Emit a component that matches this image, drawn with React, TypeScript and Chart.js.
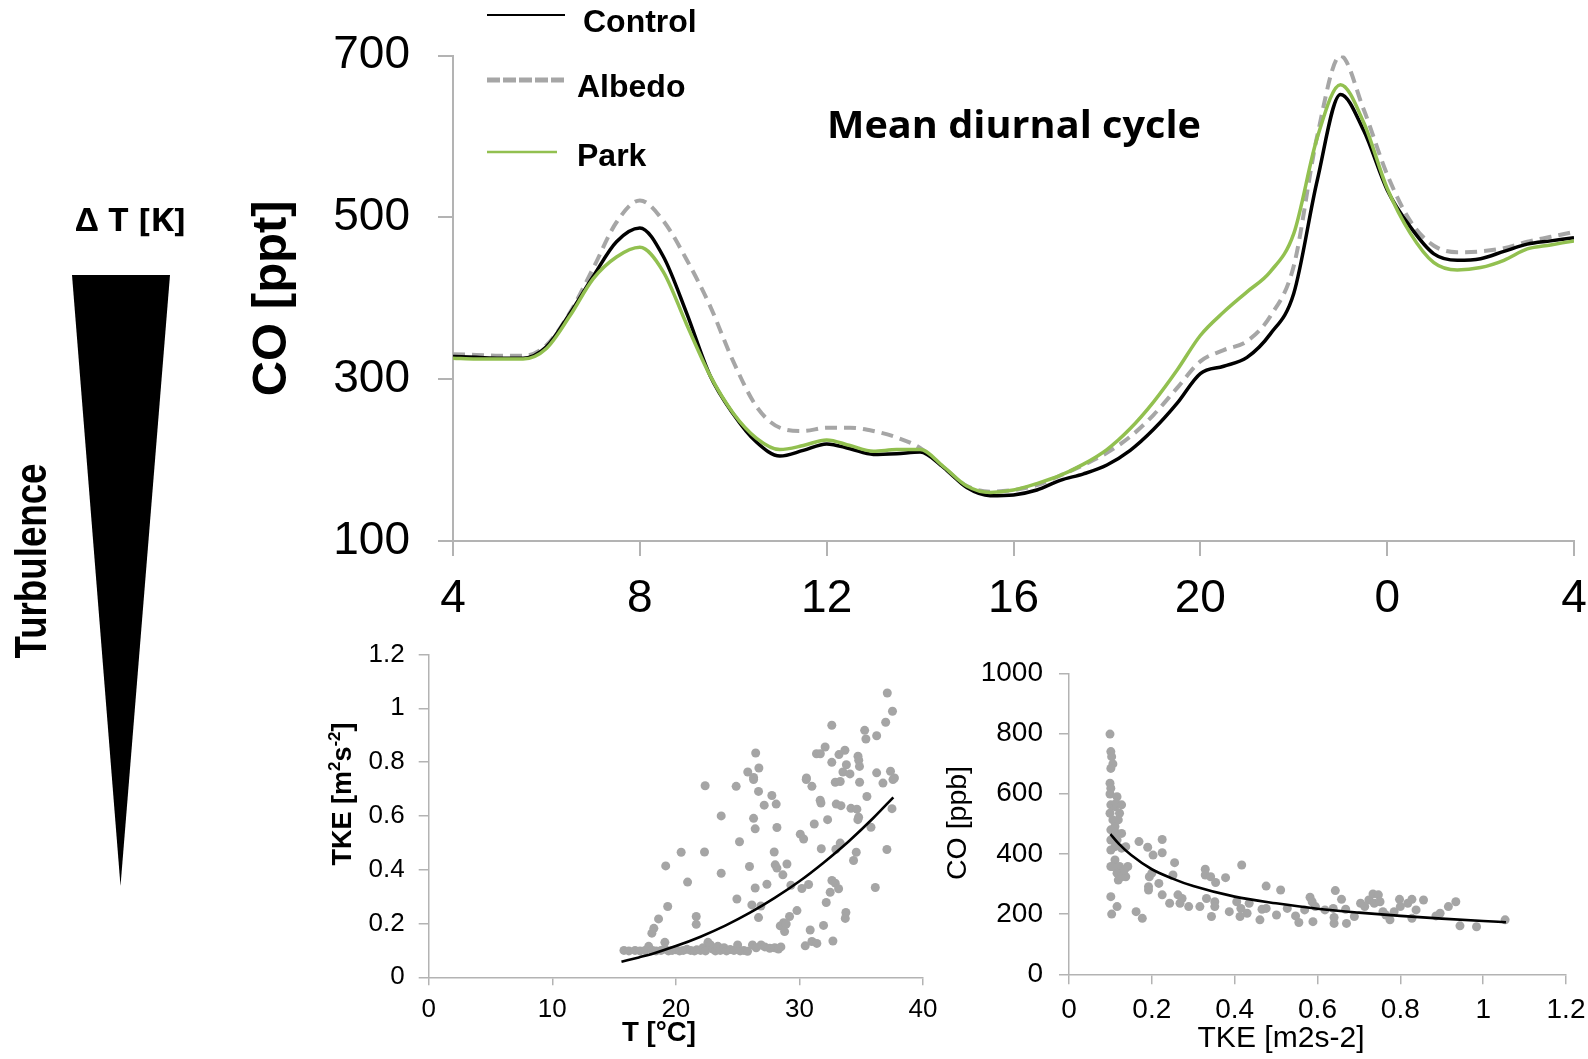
import React, { useEffect, useRef } from "react";
import { Chart, registerables } from "chart.js";

Chart.register(...registerables);

// ---------------- DATA ----------------
// Mean diurnal cycle (hour of day, 4 -> 28 == 4 next day)
const HOURS = [4, 4.5, 5, 5.5, 6, 6.5, 7, 7.5, 8, 8.5, 9, 9.5, 10, 10.5, 11, 11.5, 12, 12.5, 13, 13.5, 14, 14.5, 15, 15.5, 16, 16.5, 17, 17.5, 18, 18.5, 19, 19.5, 20, 20.5, 21, 21.5, 22, 22.5, 23, 23.5, 24, 24.5, 25, 25.5, 26, 26.5, 27, 27.5, 28];
const CONTROL = [328, 327, 326, 326, 340, 381, 427, 470, 487, 452, 382, 305, 257, 222, 205, 212, 220, 214, 207, 208, 210, 191, 166, 156, 157, 163, 175, 183, 194, 212, 238, 270, 307, 316, 327, 356, 406, 545, 652, 607, 534, 488, 455, 447, 449, 458, 467, 471, 475];
const ALBEDO = [331, 330, 329, 329, 342, 382, 437, 494, 521, 496, 448, 391, 322, 266, 240, 236, 240, 240, 236, 228, 215, 191, 168, 161, 163, 169, 181, 194, 209, 229, 256, 289, 322, 336, 347, 378, 440, 600, 700, 633, 553, 495, 465, 457, 458, 462, 470, 476, 482];
const PARK = [326, 325, 325, 325, 338, 378, 424, 451, 463, 433, 368, 305, 258, 227, 213, 218, 225, 218, 211, 213, 213, 192, 168, 160, 163, 171, 181, 195, 213, 239, 272, 311, 354, 383, 408, 433, 480, 598, 664, 617, 536, 480, 444, 435, 438, 447, 461, 466, 471];
const SERIES_NAMES = ["Control", "Albedo", "Park"];
const HOUR_TICKS = [4, 8, 12, 16, 20, 24, 28];
const CO_PPT_TICKS = [100, 300, 500, 700];

// TKE vs temperature
const TEMP_TKE_POINTS: [number, number][] = [
  [37.11, 1.057], [37.53, 0.989], [36.98, 0.948], [32.62, 0.937], [35.28, 0.918], [35.38, 0.886], [36.25, 0.898],
  [32.08, 0.856], [31.38, 0.831], [31.69, 0.831], [33.68, 0.844], [33.2, 0.828], [26.46, 0.834], [34.74, 0.822],
  [34.8, 0.807], [32.62, 0.799], [33.8, 0.79], [34.86, 0.784], [26.72, 0.778], [25.82, 0.763], [33.52, 0.763],
  [36.25, 0.76], [34.09, 0.756], [37.37, 0.766], [26.29, 0.743], [30.57, 0.741], [37.69, 0.741],
  [22.37, 0.712], [24.88, 0.71], [26.29, 0.735], [26.69, 0.691], [27.77, 0.676], [27.15, 0.64], [28.12, 0.644],
  [31.01, 0.71], [30.55, 0.735], [32.9, 0.725], [33.3, 0.728], [34.87, 0.725], [36.76, 0.722], [37.57, 0.735],
  [31.68, 0.658], [31.74, 0.648], [32.98, 0.644], [33.36, 0.638], [35.46, 0.672], [34.17, 0.628], [34.65, 0.625],
  [34.79, 0.595], [34.73, 0.586], [35.79, 0.558], [37.49, 0.627], [32.28, 0.586], [31.2, 0.57], [28.18, 0.557],
  [26.42, 0.552], [26.29, 0.591], [23.67, 0.6], [25.15, 0.504], [30.07, 0.532], [30.34, 0.514], [22.32, 0.466],
  [27.96, 0.466], [25.96, 0.412], [28.04, 0.418], [28.18, 0.406], [28.99, 0.421], [28.66, 0.381], [23.67, 0.387],
  [31.77, 0.478], [32.95, 0.476], [33.3, 0.499], [34.6, 0.465], [34.38, 0.434], [37.08, 0.475], [26.42, 0.332],
  [27.37, 0.346], [29.31, 0.342], [30.2, 0.33], [30.74, 0.345], [32.63, 0.36], [32.9, 0.35], [33.17, 0.329],
  [32.49, 0.316], [36.14, 0.334], [24.94, 0.291], [26.15, 0.269], [26.88, 0.265], [26.69, 0.222], [29.8, 0.248],
  [29.2, 0.226], [28.45, 0.191], [28.72, 0.203], [28.93, 0.198], [28.8, 0.17], [32.17, 0.278], [33.76, 0.241],
  [33.71, 0.219], [31.95, 0.193], [30.87, 0.176], [30.47, 0.117], [31.01, 0.133], [31.41, 0.126], [32.71, 0.135],
  [20.43, 0.465], [19.18, 0.414], [20.95, 0.354], [19.34, 0.263], [21.65, 0.226], [18.6, 0.217], [21.65, 0.197],
  [18.06, 0.164], [18.22, 0.182], [19.11, 0.13],
  [15.8, 0.1], [16.2, 0.098], [16.7, 0.1], [17.1, 0.098], [17.5, 0.1], [17.8, 0.115], [18.1, 0.1], [18.4, 0.098],
  [18.8, 0.1], [19.1, 0.105], [19.4, 0.098], [19.7, 0.1], [20.0, 0.102], [20.3, 0.098], [20.6, 0.1], [20.9, 0.104],
  [21.2, 0.1], [21.5, 0.098], [21.7, 0.102], [22.0, 0.1], [22.2, 0.11], [22.4, 0.098], [22.6, 0.13], [22.8, 0.12],
  [23.0, 0.105], [23.2, 0.098], [23.4, 0.115], [23.6, 0.1], [23.9, 0.11], [24.1, 0.098], [24.4, 0.103], [24.7, 0.1],
  [25.0, 0.12], [25.2, 0.098], [25.5, 0.1], [25.8, 0.097], [26.2, 0.12], [26.5, 0.11], [26.9, 0.12], [27.2, 0.113],
  [27.6, 0.108], [28.0, 0.11], [28.3, 0.105], [28.5, 0.113],
];
const TEMP_FIT_T = [15.6, 17, 18, 20, 22, 24, 26, 28, 30, 32, 34, 36, 37.6];
const TEMP_FIT_TKE = [0.058, 0.074, 0.086, 0.116, 0.151, 0.192, 0.24, 0.295, 0.357, 0.428, 0.506, 0.593, 0.669];
const TEMP_TICKS = [0, 10, 20, 30, 40];
const TKE_TICKS = [0, 0.2, 0.4, 0.6, 0.8, 1, 1.2];

// CO vs TKE
const TKE_CO_POINTS: [number, number][] = [
  [0.099, 798], [0.101, 740], [0.103, 723], [0.106, 699], [0.101, 684], [0.099, 635], [0.101, 618], [0.099, 599],
  [0.101, 563], [0.111, 557], [0.099, 535], [0.116, 590], [0.114, 568], [0.122, 535], [0.127, 563], [0.119, 513],
  [0.106, 513], [0.111, 491], [0.101, 480], [0.116, 468], [0.127, 468], [0.101, 446], [0.116, 446], [0.111, 424],
  [0.101, 413], [0.127, 419], [0.137, 424], [0.111, 380], [0.106, 358], [0.122, 358], [0.142, 358], [0.116, 336],
  [0.127, 324], [0.137, 324], [0.119, 313], [0.101, 358], [0.116, 225], [0.101, 258], [0.103, 200], [0.134, 347],
  [0.169, 441], [0.177, 186], [0.162, 208], [0.19, 422], [0.203, 396], [0.225, 448], [0.225, 404], [0.194, 324],
  [0.192, 291], [0.192, 280], [0.2, 336], [0.217, 302], [0.225, 264], [0.243, 236], [0.251, 330], [0.255, 371],
  [0.263, 264], [0.268, 236], [0.273, 252], [0.289, 225], [0.316, 225], [0.329, 349], [0.329, 330], [0.332, 252],
  [0.342, 324], [0.344, 192], [0.352, 241], [0.352, 225], [0.354, 305], [0.378, 321], [0.387, 208], [0.405, 241],
  [0.413, 192], [0.417, 363], [0.415, 219], [0.43, 203], [0.435, 236], [0.461, 181], [0.466, 216], [0.476, 293],
  [0.476, 219], [0.501, 197], [0.511, 280], [0.527, 219], [0.547, 194], [0.555, 172], [0.569, 214], [0.582, 256],
  [0.587, 241], [0.589, 175], [0.595, 225], [0.618, 214], [0.638, 219], [0.64, 189], [0.64, 169], [0.643, 278],
  [0.658, 249], [0.668, 216], [0.67, 169], [0.689, 192], [0.704, 236], [0.714, 225], [0.724, 247], [0.734, 267],
  [0.737, 236], [0.747, 264], [0.751, 241], [0.758, 208], [0.765, 197], [0.775, 181], [0.785, 208], [0.798, 249],
  [0.8, 225], [0.818, 236], [0.828, 249], [0.828, 186], [0.838, 214], [0.856, 247], [0.886, 194], [0.896, 203],
  [0.916, 225], [0.934, 241], [0.944, 161], [0.984, 158], [1.053, 181],
];
const TKE_FIT_X = [0.1, 0.12, 0.15, 0.2, 0.25, 0.3, 0.4, 0.5, 0.6, 0.7, 0.8, 0.9, 1.0, 1.055];
const TKE_FIT_CO = [466, 434, 396, 349, 318, 293, 258, 236, 218, 205, 194, 185, 177, 173];
const TKE_X_TICKS = [0, 0.2, 0.4, 0.6, 0.8, 1, 1.2];
const CO_PPB_TICKS = [0, 200, 400, 600, 800, 1000];

// ---------------- STYLE ----------------
const ARIAL = "'Liberation Sans', Arial, Helvetica, sans-serif";
const OPEN = "'Open Sans', 'DejaVu Sans', sans-serif";
const AXIS = "#b3b3b3";
const GREEN = "#92c050";
const GRAY = "#a6a6a6";
const DOT = "#a5a5a5";

function fitText(
  ctx: CanvasRenderingContext2D, text: string, x: number, y: number, font: string, width: number,
  align: CanvasTextAlign = "left", rotate = 0
) {
  ctx.save();
  ctx.font = font;
  const w = ctx.measureText(text).width;
  ctx.translate(x, y);
  if (rotate) ctx.rotate(rotate);
  ctx.scale(width / w, 1);
  ctx.textAlign = align;
  ctx.textBaseline = "alphabetic";
  ctx.fillStyle = "#000";
  ctx.fillText(text, 0, 0);
  ctx.restore();
}

function richText(
  ctx: CanvasRenderingContext2D, segs: { t: string; sup?: boolean }[], x: number, y: number,
  size: number, weight: string, rotate: number
) {
  ctx.save();
  ctx.translate(x, y);
  ctx.rotate(rotate);
  const fontFor = (sup?: boolean) => `${weight} ${sup ? Math.round(size * 0.62) : size}px ${ARIAL}`;
  let total = 0;
  const widths = segs.map((s) => {
    ctx.font = fontFor(s.sup);
    const w = ctx.measureText(s.t).width;
    total += w;
    return w;
  });
  let cx = -total / 2;
  ctx.textAlign = "left";
  ctx.textBaseline = "alphabetic";
  ctx.fillStyle = "#000";
  segs.forEach((s, i) => {
    ctx.font = fontFor(s.sup);
    ctx.fillText(s.t, cx, s.sup ? -size * 0.4 : 0);
    cx += widths[i];
  });
  ctx.restore();
}

const fmt = (v: number) => String(Math.round(v * 10) / 10);

function mainConfig(): any {
  const decor = {
    id: "decor",
    afterDraw(chart: any) {
      const ctx: CanvasRenderingContext2D = chart.ctx;
      ctx.save();
      // legend
      const legend = [
        { y: 15, ty: 31.5, tx: 583, x2: 565, color: "#000", width: 2, dash: [] as number[] },
        { y: 80, ty: 96.5, tx: 577, x2: 565, color: GRAY, width: 5, dash: [13, 3] },
        { y: 152, ty: 165.5, tx: 577, x2: 557, color: GREEN, width: 2.5, dash: [] as number[] },
      ];
      legend.forEach((l, i) => {
        ctx.beginPath();
        ctx.setLineDash(l.dash);
        ctx.strokeStyle = l.color;
        ctx.lineWidth = l.width;
        ctx.moveTo(487, l.y);
        ctx.lineTo(l.x2, l.y);
        ctx.stroke();
        ctx.setLineDash([]);
        ctx.font = `bold 32px ${ARIAL}`;
        ctx.fillStyle = "#000";
        ctx.textAlign = "left";
        ctx.textBaseline = "alphabetic";
        ctx.fillText(SERIES_NAMES[i], l.tx, l.ty);
      });
      // title
      fitText(ctx, "Mean diurnal cycle", 827, 138, `bold 37px ${OPEN}`, 374);
      // Delta T label and triangle
      fitText(ctx, "Δ T [K]", 75, 231, `bold 33px ${OPEN}`, 111);
      ctx.beginPath();
      ctx.moveTo(72, 275);
      ctx.lineTo(170, 275);
      ctx.lineTo(120.5, 886);
      ctx.closePath();
      ctx.fillStyle = "#000";
      ctx.fill();
      fitText(ctx, "Turbulence", 46, 561, `bold 44px ${ARIAL}`, 195, "center", -Math.PI / 2);
      ctx.restore();
    },
  };
  const mk = (vals: number[]) => HOURS.map((h, i) => ({ x: h, y: vals[i] }));
  return {
    type: "line",
    data: {
      datasets: [
        { label: SERIES_NAMES[0], data: mk(CONTROL), borderColor: "#000", borderWidth: 3.5, pointRadius: 0, cubicInterpolationMode: "monotone", order: 1 },
        { label: SERIES_NAMES[1], data: mk(ALBEDO), borderColor: GRAY, borderWidth: 4, borderDash: [12, 7], pointRadius: 0, cubicInterpolationMode: "monotone", order: 2 },
        { label: SERIES_NAMES[2], data: mk(PARK), borderColor: GREEN, borderWidth: 3.5, pointRadius: 0, cubicInterpolationMode: "monotone", order: 0 },
      ],
    },
    options: {
      responsive: false,
      animation: false,
      layout: { padding: { left: 243, top: 52, right: 36, bottom: 419 } },
      plugins: { legend: { display: false }, tooltip: { enabled: false } },
      scales: {
        x: {
          type: "linear",
          min: 4,
          max: 28,
          afterBuildTicks: (s: any) => { s.ticks = HOUR_TICKS.map((v) => ({ value: v })); },
          afterFit: (s: any) => { s.height = 99; },
          ticks: { callback: (v: number) => String(v % 24), font: { family: ARIAL, size: 46 }, color: "#000", padding: 16, maxRotation: 0, autoSkip: false },
          grid: { display: true, drawOnChartArea: false, drawTicks: true, tickLength: 15, color: AXIS, lineWidth: 2 },
          border: { display: true, color: AXIS, width: 2 },
        },
        y: {
          type: "linear",
          min: 100,
          max: 700,
          afterBuildTicks: (s: any) => { s.ticks = CO_PPT_TICKS.map((v) => ({ value: v })); },
          afterFit: (s: any) => { s.width = 210; },
          ticks: { font: { family: ARIAL, size: 46 }, color: "#000", padding: 28 },
          grid: { display: true, drawOnChartArea: false, drawTicks: true, tickLength: 15, color: AXIS, lineWidth: 2 },
          border: { display: true, color: AXIS, width: 2 },
          title: { display: true, text: "CO [ppt]", font: { family: ARIAL, size: 49, weight: "bold" }, color: "#000", padding: 0 },
        },
      },
    },
    plugins: [decor],
  };
}

function scatterConfig(o: {
  points: [number, number][]; fitX: number[]; fitY: number[]; xTicks: number[]; yTicks: number[];
  xMax: number; yMax: number; pad: { left: number; top: number; right: number; bottom: number };
  yWidth: number; xHeight: number; fontSize: number; yPad: number; xPad: number; yTickLen: number; xTickLen: number;
  drawTitles: (ctx: CanvasRenderingContext2D) => void;
}): any {
  const axisGrid = (len: number) => ({ display: true, drawOnChartArea: false, drawTicks: true, tickLength: len, color: AXIS, lineWidth: 1.5 });
  return {
    type: "scatter",
    data: {
      datasets: [
        { data: o.fitX.map((x, i) => ({ x, y: o.fitY[i] })), showLine: true, borderColor: "#000", borderWidth: 2.6, pointRadius: 0, cubicInterpolationMode: "monotone", order: 0 },
        { data: o.points.map(([x, y]) => ({ x, y })), pointRadius: 4.5, backgroundColor: DOT, borderWidth: 0, order: 1 },
      ],
    },
    options: {
      responsive: false,
      animation: false,
      layout: { padding: o.pad },
      plugins: { legend: { display: false }, tooltip: { enabled: false } },
      scales: {
        x: {
          type: "linear",
          min: 0,
          max: o.xMax,
          afterBuildTicks: (s: any) => { s.ticks = o.xTicks.map((v) => ({ value: v })); },
          afterFit: (s: any) => { s.height = o.xHeight; },
          ticks: { callback: (v: number) => fmt(v), font: { family: ARIAL, size: o.fontSize }, color: "#000", padding: o.xPad, maxRotation: 0, autoSkip: false },
          grid: axisGrid(o.xTickLen),
          border: { display: true, color: AXIS, width: 1.5 },
        },
        y: {
          type: "linear",
          min: 0,
          max: o.yMax,
          afterBuildTicks: (s: any) => { s.ticks = o.yTicks.map((v) => ({ value: v })); },
          afterFit: (s: any) => { s.width = o.yWidth; },
          ticks: { callback: (v: number) => fmt(v), font: { family: ARIAL, size: o.fontSize }, color: "#000", padding: o.yPad },
          grid: axisGrid(o.yTickLen),
          border: { display: true, color: AXIS, width: 1.5 },
        },
      },
    },
    plugins: [{ id: "titles", afterDraw: (chart: any) => o.drawTitles(chart.ctx) }],
  };
}

export default function App() {
  const mainRef = useRef<HTMLCanvasElement>(null);
  const s1Ref = useRef<HTMLCanvasElement>(null);
  const s2Ref = useRef<HTMLCanvasElement>(null);

  useEffect(() => {
    const charts: Chart[] = [];
    charts.push(new Chart(mainRef.current as HTMLCanvasElement, mainConfig()));
    charts.push(
      new Chart(
        s1Ref.current as HTMLCanvasElement,
        scatterConfig({
          points: TEMP_TKE_POINTS, fitX: TEMP_FIT_T, fitY: TEMP_FIT_TKE, xTicks: TEMP_TICKS, yTicks: TKE_TICKS,
          xMax: 40, yMax: 1.2, pad: { left: 0, top: 34.5, right: 37, bottom: 21.7 }, yWidth: 128.7, xHeight: 60,
          fontSize: 26, yPad: 14, xPad: 9, yTickLen: 10, xTickLen: 8,
          drawTitles: (ctx) => {
            richText(ctx, [{ t: "TKE [m" }, { t: "2", sup: true }, { t: "s" }, { t: "-2", sup: true }, { t: "]" }], 51, 174, 27, "bold", -Math.PI / 2);
            fitText(ctx, "T [°C]", 359, 421, `bold 27px ${ARIAL}`, 74, "center");
          },
        })
      )
    );
    charts.push(
      new Chart(
        s2Ref.current as HTMLCanvasElement,
        scatterConfig({
          points: TKE_CO_POINTS, fitX: TKE_FIT_X, fitY: TKE_FIT_CO, xTicks: TKE_X_TICKS, yTicks: CO_PPB_TICKS,
          xMax: 1.2, yMax: 1000, pad: { left: 0, top: 53.3, right: 44, bottom: 24.7 }, yWidth: 139, xHeight: 60,
          fontSize: 28, yPad: 16, xPad: 9, yTickLen: 10, xTickLen: 10,
          drawTitles: (ctx) => {
            fitText(ctx, "CO [ppb]", 36, 203, `28px ${ARIAL}`, 114, "center", -Math.PI / 2);
            fitText(ctx, "TKE [m2s-2]", 351, 427, `29px ${ARIAL}`, 167, "center");
          },
        })
      )
    );
    return () => charts.forEach((c) => c.destroy());
  }, []);

  return (
    <div style={{ position: "absolute", left: 0, top: 0, width: 1588, height: 1059, background: "#fff", overflow: "hidden" }}>
      <canvas ref={mainRef} width={1610} height={1059} style={{ position: "absolute", left: 0, top: 0, width: 1610, height: 1059 }} />
      <canvas ref={s1Ref} width={660} height={439} style={{ position: "absolute", left: 300, top: 620, width: 660, height: 439 }} />
      <canvas ref={s2Ref} width={680} height={439} style={{ position: "absolute", left: 930, top: 620, width: 680, height: 439 }} />
    </div>
  );
}
